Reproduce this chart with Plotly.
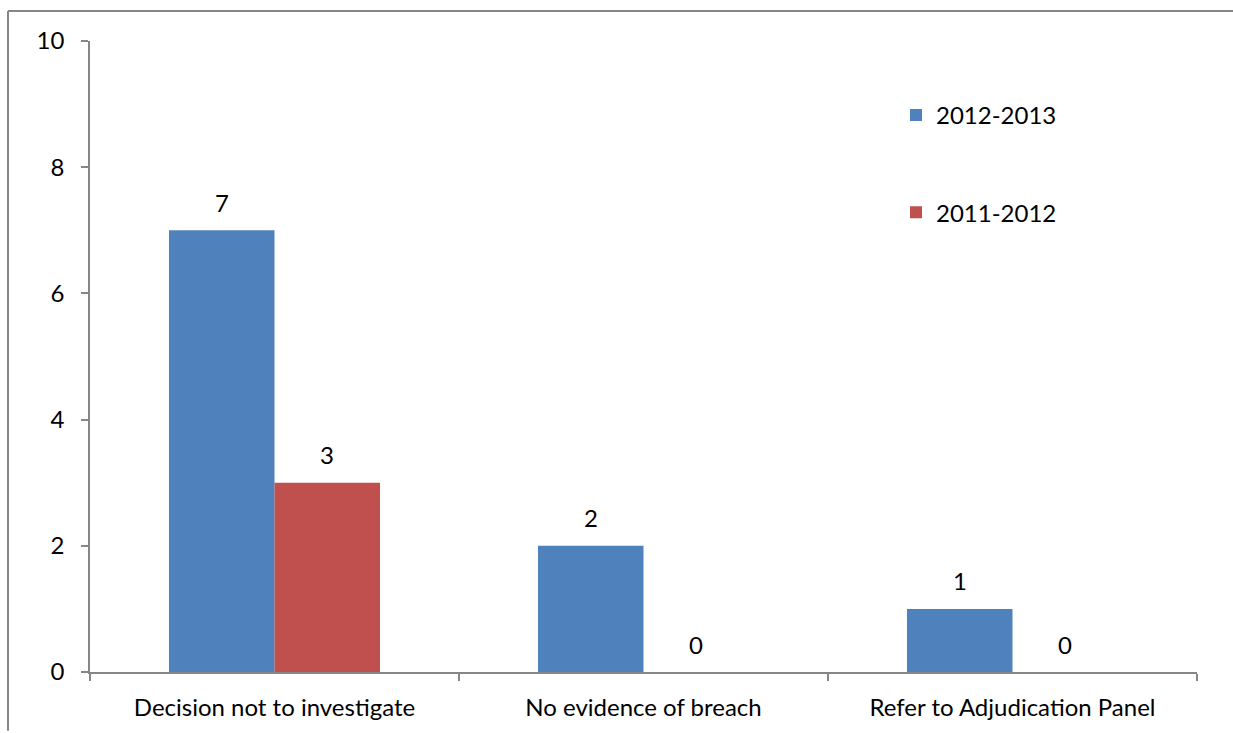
import plotly.graph_objects as go

categories = ["Decision not to investigate", "No evidence of breach", "Refer to Adjudication Panel"]
series_names = ["2012-2013", "2011-2012"]
values_2012_2013 = [7, 2, 1]
values_2011_2012 = [3, 0, 0]
colors = ["#4F81BD", "#C0504D"]

W, H = 1233, 733
L, R, T, B = 90, 36, 41, 59
FONT = "Lato"
FS = 24

fig = go.Figure()
all_vals = [values_2012_2013, values_2011_2012]
for i, (name, vals) in enumerate(zip(series_names, all_vals)):
    fig.add_trace(go.Bar(
        x=categories, y=vals, name=name, marker_color=colors[i],
        marker_line_width=0, legendgroup=name,
    ))

# data labels above bars
offsets = [-52.5, 52.5]
annotations = []
for i, vals in enumerate(all_vals):
    for c, v in zip(categories, vals):
        annotations.append(dict(x=c, y=v, xref="x", yref="y", text=str(v), showarrow=False,
                                xshift=offsets[i], yshift=28,
                                font=dict(family=FONT, size=FS, color="#000000")))

pw = W - L - R
ph = H - T - B
bx = (8 - L) / pw
by = (674 - 11) / ph
border = dict(color="#868686", width=2)
fig.update_layout(
    width=W, height=H,
    margin=dict(l=L, r=R, t=T, b=B, pad=0),
    paper_bgcolor="white", plot_bgcolor="white",
    barmode="group", bargap=0.428, bargroupgap=0,
    font=dict(family=FONT, size=FS, color="#000000"),
    showlegend=True,
    legend=dict(x=(896 - L) / pw, y=(674 - 93) / ph, xanchor="left", yanchor="top",
                bgcolor="rgba(0,0,0,0)", font=dict(family=FONT, size=FS),
                tracegroupgap=63, traceorder="grouped", itemwidth=30),
    annotations=annotations,
    xaxis=dict(showgrid=False, showline=True, linecolor="#868686", linewidth=1.5,
               ticks="outside", tickson="boundaries", ticklen=7, tickcolor="#868686",
               tickwidth=1.5, tickfont=dict(family=FONT, size=FS), ticklabelstandoff=13),
    yaxis=dict(range=[0, 10], dtick=2, showgrid=False, showline=True, linecolor="#868686",
               linewidth=1.5, ticks="outside", ticklen=7, tickcolor="#868686", tickwidth=1.5,
               tickfont=dict(family=FONT, size=FS), zeroline=False, ticklabelstandoff=12),
    shapes=[
        dict(type="line", xref="paper", yref="paper", x0=bx, x1=bx, y0=(674 - H) / ph, y1=by, line=border),
        dict(type="line", xref="paper", yref="paper", x0=bx, x1=(W - L) / pw, y0=by, y1=by, line=border),
    ],
)

fig.write_html("out.html")
